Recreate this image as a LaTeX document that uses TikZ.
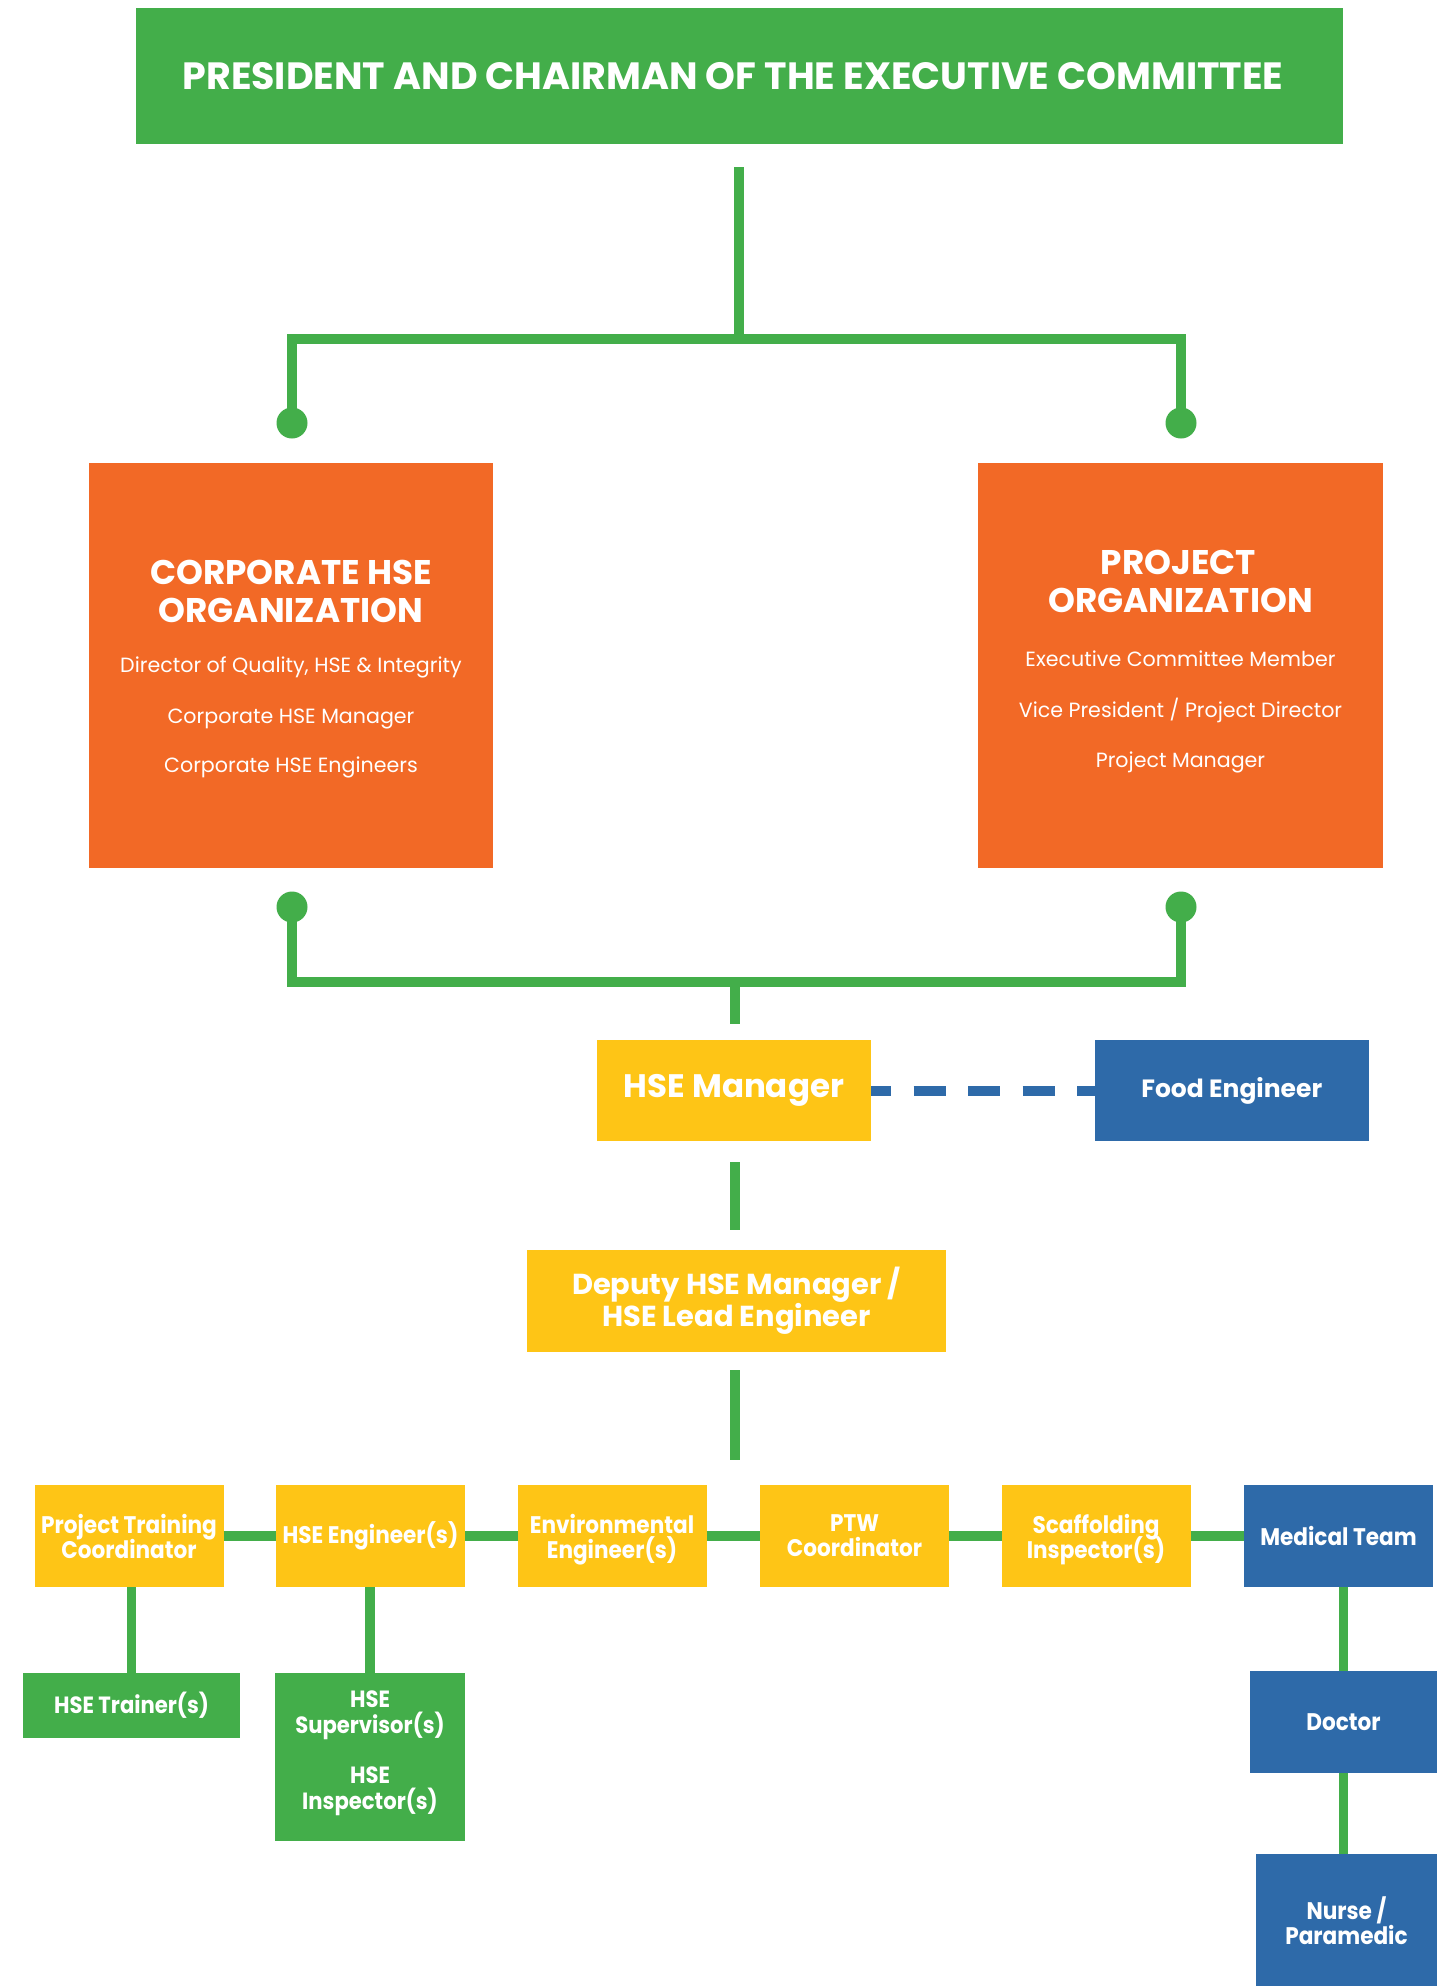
\documentclass[tikz,border=0pt]{standalone}
\usepackage{fontspec}
\setmainfont{Poppins}
\newfontfamily\narrowf{Poppins}[FakeStretch=0.9]
\definecolor{hgreen}{HTML}{43AE4A}
\definecolor{horange}{HTML}{F26926}
\definecolor{hyellow}{HTML}{FEC516}
\definecolor{hblue}{HTML}{2E6AA9}
\newcommand{\fsz}[2]{\fontsize{#1}{#2}\selectfont\lineskiplimit=-100pt\lineskip=0pt\relax}
\begin{document}
\begin{tikzpicture}[x=1pt,y=-1pt,
  box/.style={inner sep=0pt, outer sep=0pt, text=white, align=center},
  gline/.style={draw=hgreen, line width=9.5pt},
  rowline/.style={draw=hgreen, line width=10pt},
  bdash/.style={draw=hblue, line width=10pt, dash pattern=on 32pt off 22.5pt, dash phase=12pt},
  gdot/.style={circle, fill=hgreen, inner sep=0pt, minimum size=31pt},
  ybox/.style={box, fill=hyellow},
  bbox/.style={box, fill=hblue},
  grbox/.style={box, fill=hgreen},
  obox/.style={box, fill=horange},
  rowbox/.style={minimum width=189pt, minimum height=102pt, font=\narrowf\bfseries\fsz{24}{25}},
  otitle/.style={inner sep=0pt, text=white, anchor=base, font=\bfseries\fsz{34.2}{38}},
  osub/.style={inner sep=0pt, text=white, anchor=base, font=\fsz{20.6}{26}}
]
\useasboundingbox (0,0) rectangle (1445,1986);
\clip (0,0) rectangle (1445,1986);
\fill[white] (0,0) rectangle (1445,1986);

% top
\node[grbox, minimum width=1207pt, minimum height=136pt, font=\bfseries\fsz{38}{42}] (top) at (739,76) {PRESIDENT AND CHAIRMAN OF THE EXECUTIVE COMMITTEE\hspace*{12pt}};

\coordinate (t1) at (739,167);
\coordinate (j1) at (739,339);
\node[gdot] (d1) at (292,423) {};
\node[gdot] (d2) at (1181,423) {};
\draw[gline] (t1) -- (j1);
\draw[gline] (d1.center) |- (j1) -| (d2.center);

% orange boxes
\node[obox, minimum width=404pt, minimum height=405pt] (corp) at (291,665.5) {};
\node[obox, minimum width=405pt, minimum height=405pt] (proj) at (1180.5,665.5) {};

\node[otitle] (corpT1) at (291,584.7) {CORPORATE HSE};
\node[otitle] (corpT2) at (291,622.7) {ORGANIZATION};
\node[osub] (corpS1) at (291,672.5) {Director of Quality, HSE \& Integrity};
\node[osub] (corpS2) at (291,723) {Corporate HSE Manager};
\node[osub] (corpS3) at (291,772) {Corporate HSE Engineers};

\node[otitle] (projT1) at (1178.5,574.7) {PROJECT};
\node[otitle] (projT2) at (1180.5,612.7) {ORGANIZATION};
\node[osub] (projS1) at (1180.5,666) {Executive Committee Member};
\node[osub] (projS2) at (1180.5,717) {Vice President / Project Director};
\node[osub] (projS3) at (1180.5,767.5) {Project Manager};

% lower fork
\node[gdot] (d3) at (292,907) {};
\node[gdot] (d4) at (1181,907) {};
\coordinate (j2) at (735,982);
\coordinate (t2) at (735,1024);
\draw[gline] (d3.center) |- (j2) -| (d4.center);
\draw[gline] (j2) -- (t2);

% HSE manager and food engineer
\node[ybox, minimum width=274pt, minimum height=101pt, font=\bfseries\fsz{32.5}{36}] (hsem) at (734,1090.5) {HSE Manager};
\node[bbox, minimum width=274.5pt, minimum height=101pt, font=\bfseries\fsz{25}{30}] (food) at (1231.75,1090.5) {Food Engineer};
\draw[bdash] (hsem.east) -- (food.west);

\coordinate (c3) at (735,1162);
\coordinate (c4) at (735,1230);
\draw[gline] (c3) -- (c4);

\node[ybox, minimum width=419pt, minimum height=102pt, font=\bfseries\fsz{28.9}{32}] (dep) at (736.5,1301) {Deputy HSE Manager /\\HSE Lead Engineer};

\coordinate (c5) at (735,1370);
\coordinate (c6) at (735,1460);
\draw[gline] (c5) -- (c6);

% row
\node[ybox, rowbox] (ptc) at (129,1536) {Project Training\\Coordinator};
\node[ybox, rowbox] (hseeng) at (370.5,1536) {HSE Engineer(s)};
\node[ybox, rowbox, text depth=0pt] (env) at (612,1536) {Environmental\\Engineer(s)};
\node[ybox, rowbox] (ptw) at (854.5,1536) {PTW\\Coordinator};
\node[ybox, rowbox, text depth=0pt] (scaf) at (1096,1536) {Scaffolding\\Inspector(s)};
\node[bbox, rowbox] (med) at (1338.5,1536) {Medical Team};
\draw[rowline] (ptc.east) -- (hseeng.west);
\draw[rowline] (hseeng.east) -- (env.west);
\draw[rowline] (env.east) -- (ptw.west);
\draw[rowline] (ptw.east) -- (scaf.west);
\draw[rowline] (scaf.east) -- (med.west);

% sub boxes
\node[grbox, minimum width=217pt, minimum height=65pt, font=\narrowf\bfseries\fsz{23.5}{27}] (train) at (131.5,1705.5) {HSE Trainer(s)};
\draw[gline] (train.north) -- (train.north |- ptc.south);

\node[grbox, minimum width=190pt, minimum height=168pt, text depth=0pt, font=\narrowf\bfseries\fsz{23.5}{26.5}] (superv) at (370,1757) {};
\node[box, text depth=0pt, font=\narrowf\bfseries\fsz{23.5}{26.5}] (supervT) at (370,1750) {HSE\\Supervisor(s)\\[23pt]HSE\\Inspector(s)};
\draw[gline] (superv.north) -- (superv.north |- hseeng.south);

\node[bbox, minimum width=187pt, minimum height=102pt, font=\narrowf\bfseries\fsz{24}{25}] (doc) at (1343.5,1722) {Doctor};
\node[bbox, minimum width=181pt, minimum height=141pt] (nurse) at (1346.5,1924.5) {};
\node[box, text depth=0pt, font=\narrowf\bfseries\fsz{24}{25}] (nurseT) at (1346.5,1921) {Nurse /\\Paramedic};
\draw[gline] (doc.north) -- (doc.north |- med.south);
\draw[gline] (doc.south) -- (doc.south |- nurse.north);
\end{tikzpicture}
\end{document}
